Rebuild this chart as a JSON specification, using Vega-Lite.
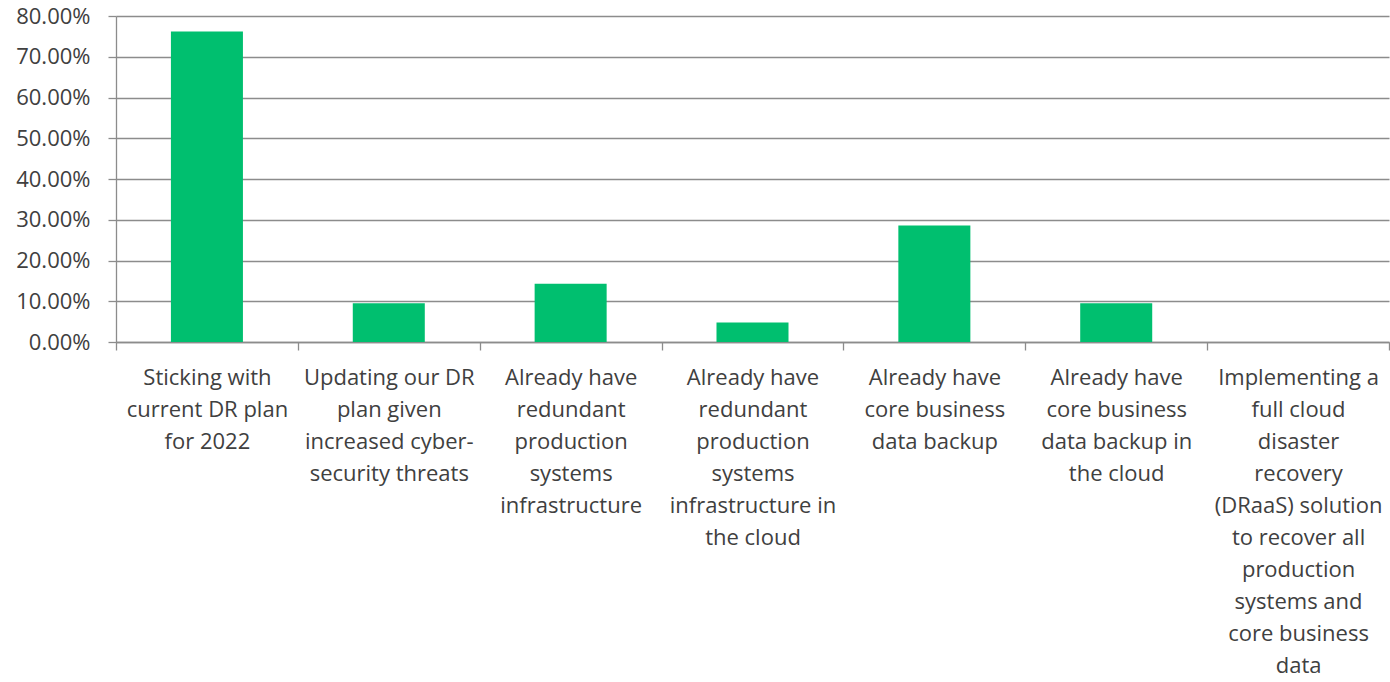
{
  "$schema": "https://vega.github.io/schema/vega-lite/v6.json",
  "width": 1273,
  "height": 326,
  "autosize": {"type": "none"},
  "padding": {"left": 116, "top": 16, "right": 1, "bottom": 340},
  "background": "white",
  "config": {
    "view": {"stroke": null},
    "font": "Open Sans"
  },
  "data": {
    "values": [
      {"category": "Sticking with\ncurrent DR plan\nfor 2022", "share": 0.7619},
      {"category": "Updating our DR\nplan given\nincreased cyber-\nsecurity threats", "share": 0.0952},
      {"category": "Already have\nredundant\nproduction\nsystems\ninfrastructure", "share": 0.1429},
      {"category": "Already have\nredundant\nproduction\nsystems\ninfrastructure in\nthe cloud", "share": 0.0476},
      {"category": "Already have\ncore business\ndata backup", "share": 0.2857},
      {"category": "Already have\ncore business\ndata backup in\nthe cloud", "share": 0.0952},
      {"category": "Implementing a\nfull cloud\ndisaster\nrecovery\n(DRaaS) solution\nto recover all\nproduction\nsystems and\ncore business\ndata", "share": 0}
    ]
  },
  "mark": {"type": "bar", "color": "#00BF6F", "width": {"band": 0.396}},
  "encoding": {
    "x": {
      "field": "category",
      "type": "nominal",
      "sort": null,
      "scale": {"paddingInner": 0, "paddingOuter": 0},
      "axis": {
        "title": null,
        "labelAngle": 0,
        "labelExpr": "split(datum.label, '\\n')",
        "labelFontSize": 22,
        "labelLineHeight": 32,
        "labelColor": "#404040",
        "labelLimit": 0,
        "labelOverlap": false,
        "labelPadding": 17,
        "labelBaseline": "top",
        "tickBand": "extent",
        "tickSize": 8,
        "tickColor": "#8c8c8c",
        "tickWidth": 1.3,
        "domainColor": "#8c8c8c",
        "domainWidth": 1.3,
        "grid": false
      }
    },
    "y": {
      "field": "share",
      "type": "quantitative",
      "scale": {"domain": [0, 0.8], "nice": false},
      "axis": {
        "title": null,
        "values": [0, 0.1, 0.2, 0.3, 0.4, 0.5, 0.6, 0.7, 0.8],
        "format": ".2%",
        "labelFontSize": 22,
        "labelColor": "#404040",
        "labelPadding": 18,
        "tickSize": 8,
        "tickColor": "#8c8c8c",
        "tickWidth": 1.3,
        "domainColor": "#8c8c8c",
        "domainWidth": 1.3,
        "grid": true,
        "gridColor": "#8c8c8c",
        "gridWidth": 1.3
      }
    }
  }
}
